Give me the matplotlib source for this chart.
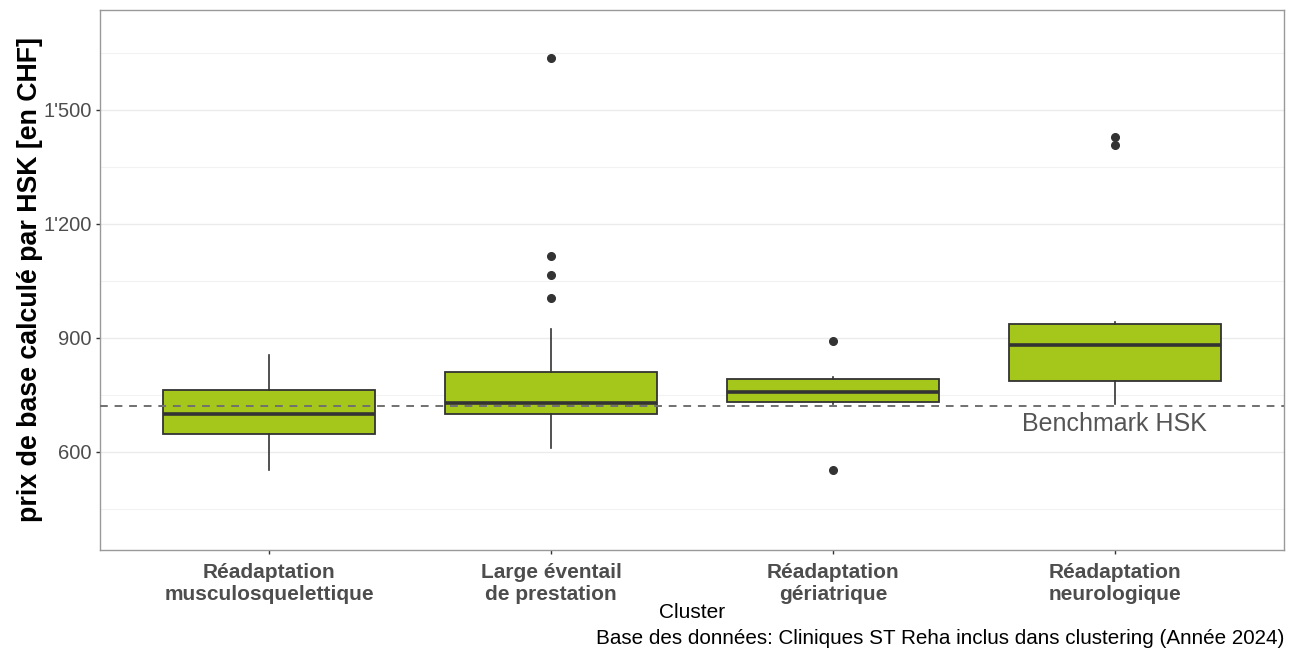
import matplotlib
matplotlib.use("Agg")
import matplotlib.pyplot as plt
from matplotlib.ticker import FixedLocator, FuncFormatter

plt.rcParams['font.family'] = ['Liberation Sans', 'DejaVu Sans']

# Cluster categories and box statistics (CHF)
categories = ["Réadaptation\nmusculosquelettique", "Large éventail\nde prestation",
              "Réadaptation\ngériatrique", "Réadaptation\nneurologique"]
whisker_low = [553, 611, 726, 725]
q1 = [647, 699, 731, 787]
median = [701, 728, 758, 882]
q3 = [763, 810, 792, 938]
whisker_high = [854, 923, 797, 942]
outliers = [[], [1006, 1066, 1115, 1638], [552, 892], [1409, 1428]]
benchmark = 720

major_ticks = [600, 900, 1200, 1500]
minor_ticks = [450, 750, 1050, 1350, 1650]

fill_color = "#A5C61A"
edge_color = "#333333"

W, H = 1293, 651
fig = plt.figure(figsize=(W / 100, H / 100), dpi=100)
ax = fig.add_axes([100 / W, 1 - 550 / H, (1284 - 100) / W, (550 - 10) / H])

stats = []
for i in range(len(categories)):
    stats.append(dict(med=median[i], q1=q1[i], q3=q3[i],
                      whislo=whisker_low[i], whishi=whisker_high[i],
                      fliers=outliers[i], label=categories[i]))

positions = list(range(1, len(categories) + 1))
ax.bxp(stats, positions=positions, widths=0.75, patch_artist=True,
       showcaps=False, zorder=3,
       boxprops=dict(facecolor=fill_color, edgecolor=edge_color, linewidth=1.3),
       medianprops=dict(color=edge_color, linewidth=2.6),
       whiskerprops=dict(color=edge_color, linewidth=1.2),
       flierprops=dict(marker='o', markerfacecolor=edge_color,
                       markeredgecolor=edge_color, markersize=5.5))

ax.axhline(benchmark, color="#707070", linestyle=(0, (4, 3.5)), linewidth=1.4, zorder=4)
ax.text(4, benchmark - 14, "Benchmark HSK", ha="center", va="top",
        fontsize=18, color="#555555", zorder=5)

ax.set_xlim(0.4, 4.6)
ax.set_ylim(342, 1763)

ax.yaxis.set_major_locator(FixedLocator(major_ticks))
ax.yaxis.set_minor_locator(FixedLocator(minor_ticks))
ax.yaxis.set_major_formatter(FuncFormatter(lambda v, p: f"{int(v):,}".replace(",", "'")))
ax.grid(True, which="major", axis="y", color="#EBEBEB", linewidth=1.0, zorder=0)
ax.grid(True, which="minor", axis="y", color="#F2F2F2", linewidth=0.8, zorder=0)
ax.set_axisbelow(True)

ax.set_xticks(positions)
ax.set_xticklabels(categories, fontsize=15, fontweight="bold", color="#4D4D4D",
                   linespacing=1.25)
ax.tick_params(axis="y", labelsize=14.5, labelcolor="#4D4D4D", color="#333333",
               length=3, width=1, pad=3)
ax.tick_params(axis="y", which="minor", length=0)
ax.tick_params(axis="x", color="#333333", length=3, width=1, pad=6)

for s in ax.spines.values():
    s.set_color("#999999")
    s.set_linewidth(1.0)

ax.set_ylabel("prix de base calculé par HSK [en CHF]", fontsize=19.3,
              fontweight="bold", color="black", va="center")
ax.yaxis.set_label_coords(-70 / 1184, 0.5)
fig.text(692 / W, 1 - 612 / H, "Cluster", ha="center", va="center",
         fontsize=15, color="black")
fig.text(1284 / W, 1 - 638 / H,
         "Base des données: Cliniques ST Reha inclus dans clustering (Année 2024)",
         ha="right", va="center", fontsize=14.9, color="black")

fig.savefig("out.png", dpi=100, facecolor="white")
